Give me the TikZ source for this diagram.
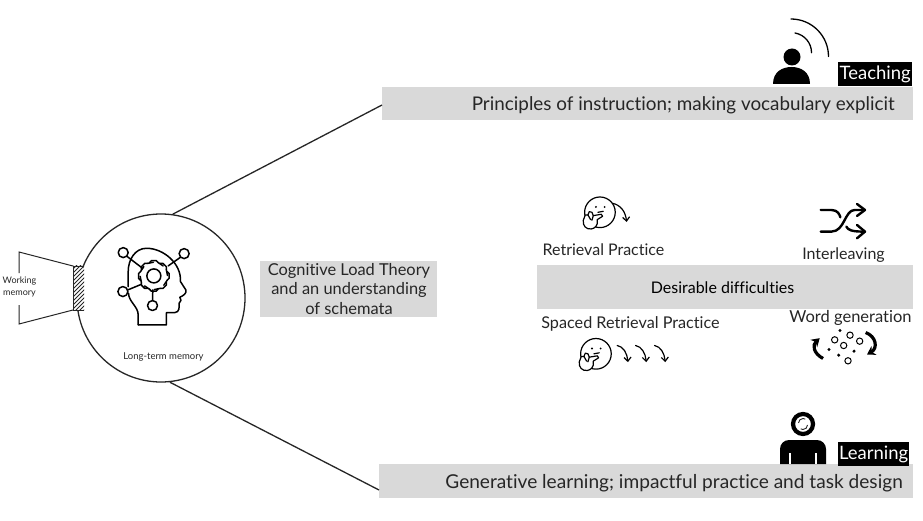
\documentclass[tikz,border=0pt]{standalone}
\usepackage{fontspec}
\setmainfont{Lato}[Ligatures=NoCommon]
\usetikzlibrary{arrows.meta}
\definecolor{barg}{HTML}{D9D9D9}
\definecolor{ink}{HTML}{262626}
\tikzset{
  graybar/.style={fill=barg,draw=none,inner sep=0pt,text=ink},
  blacktag/.style={fill=black,text=white,inner sep=0pt,minimum width=74pt,minimum height=24pt,font=\fontsize{18.5}{18.5}\selectfont},
  lbl/.style={text=ink,inner sep=0pt},
  icon/.style={line width=1.2pt,line cap=round,line join=round},
  wire/.style={line width=1.3pt,draw=ink},
  barb/.style={-{Straight Barb[length=4pt,width=7pt]}},
}
\newcommand{\thinkface}{%
  \draw[icon] (0,0) circle (46);
  \fill (-12,-16) circle (3.2) (14,-16) circle (3.2);
  \draw[icon] (-6,0) -- (10,-3);
  \draw[icon,fill=white] (-26,50) .. controls (-42,52) and (-52,40) .. (-50,24)
     -- (-44,8) -- (-36,8) -- (-32,-2) -- (-24,0) -- (-20,10)
     -- (4,6) -- (8,12) -- (-8,22) .. controls (-6,30) and (-8,38) .. (-12,42)
     .. controls (-16,46) and (-20,50) .. (-26,50) -- cycle;
  \draw[icon] (-36,8) -- (-28,22) (-20,10) -- (-24,24);
}
\begin{document}
\begin{tikzpicture}[x=1pt,y=-1pt]
\useasboundingbox (0,0) rectangle (923,521);
\fill[white] (0,0) rectangle (923,521);

% Bars
\node[graybar,minimum width=531pt,minimum height=33pt,anchor=north west] (bar1) at (382,87) {};
\node[lbl,font=\fontsize{18.85}{19}\selectfont,anchor=mid east] (t1) at (895,108) {Principles of instruction; making vocabulary explicit};
\node[graybar,minimum width=534pt,minimum height=34pt,anchor=north west] (bar3) at (379,464) {};
\node[lbl,font=\fontsize{19.1}{19}\selectfont,anchor=mid east] (t3) at (903,486) {Generative learning; impactful practice and task design};
\node[graybar,minimum width=376pt,minimum height=44pt,anchor=north west] (bar2) at (537,265) {};
\node[lbl,font=\fontsize{16}{16}\selectfont,text=black] (t2) at (722.5,288) {Desirable difficulties};
\node[graybar,minimum width=177pt,minimum height=56pt,anchor=north west] (bar4) at (260,261) {};
\node[lbl,font=\fontsize{16.4}{19.5}\selectfont,align=center] (t4) at (349,289) {Cognitive Load Theory\\and an understanding\\of schemata};

% Memory
\node[circle,draw=ink,line width=1.3pt,minimum size=168pt,inner sep=0pt] (mem) at (161,298) {};
\coordinate (b1) at (382,105);
\coordinate (b3) at (379,490);
\draw[wire] (mem.82) -- (b1);
\draw[wire] (mem.-84) -- (b3);
\fill[white] (73,266) rectangle (83,310);
\begin{scope}
\clip (73,266) rectangle (84,310);
\foreach \k in {-10,-6,...,60}{\draw[line width=.8pt,draw=ink] (70,266+\k) -- (88,266+\k-18);}
\end{scope}
\draw[line width=.8pt,draw=ink] (83,266) -- (73,266) -- (73,310) -- (83,310);
\coordinate (f1) at (73,266); \coordinate (f2) at (19,252); \coordinate (f3) at (19,273);
\coordinate (f4) at (73,310); \coordinate (f5) at (19,324); \coordinate (f6) at (19,305);
\draw[line width=1pt,draw=ink] (f1) -- (f2) -- (f3);
\draw[line width=1pt,draw=ink] (f4) -- (f5) -- (f6);
\node[lbl,font=\fontsize{9}{11.5}\selectfont,align=center] (wm) at (19.5,287) {Working\\memory};
\node[lbl,font=\fontsize{9.5}{12}\selectfont] (ltm) at (163.5,357) {Long-term memory};

% Head icon (zoom coordinates)
\begin{scope}[shift={(0,190)},x=0.333pt,y=-0.333pt,icon,line width=1.5pt,black]
 \draw (415,405) -- (500,405) -- (500,368) -- (525,368) .. controls (540,368) and (538,350) .. (538,340)
   .. controls (545,335) and (545,328) .. (540,322) .. controls (550,318) and (562,310) .. (558,300)
   -- (542,275) .. controls (545,220) and (490,175) .. (440,175)
   .. controls (405,175) and (385,210) .. (385,245) -- (385,290);
 \draw (386,310) .. controls (386,335) and (415,350) .. (415,375) -- (415,405);
 \draw (462,258) circle (21);
 \foreach \a in {0,45,...,315}{
   \draw[rotate around={\a:(462,258)}] (449,218) -- (455,212) -- (469,212) -- (475,218);
   \draw[rotate around={\a:(462,258)}] (475,218) -- (490,228);
 }
 \draw (370,188) circle (15) (553,191) circle (15) (369,305) circle (15) (458,347) circle (15);
 \draw (381,199) -- (428,235) (542,202) -- (505,228) (384,300) -- (425,283) (459,300) -- (458,332);
\end{scope}

% Retrieval practice
\begin{scope}[shift={(530,180)},x=0.333pt,y=-0.333pt]
 \begin{scope}[shift={(210,97)}]\thinkface\end{scope}
 \draw[icon,barb] (248,70) .. controls (272,75) and (287,95) .. (290,126);
 \begin{scope}[shift={(198,522)}]\thinkface\end{scope}
 \foreach \dx in {0,55,112}{
   \draw[icon,barb] (262+\dx,497) .. controls (280+\dx,500) and (292+\dx,520) .. (294+\dx,547);
 }
 % shuffle
 \begin{scope}[line width=2.4pt,line cap=round,line join=round]
 \draw (873,90) -- (905,90) .. controls (925,90) and (930,105) .. (932,112);
 \draw (1003,90) -- (975,90) .. controls (945,90) and (945,155) .. (905,155) -- (873,155);
 \draw (950,140) .. controls (955,150) and (965,155) .. (1003,155);
 \draw (982,72) -- (1006,90) -- (982,108) (982,135) -- (1006,155) -- (982,175);
 \end{scope}
 % word generation
 \foreach \p/\r in {915/480,961/466,942/497,990/484,955/543}{\draw[line width=1pt] (\p,\r) circle (9.5);}
 \foreach \p/\r in {931/452,898/509,973/514,927/526}{\fill (\p,\r) circle (5);}
 \draw[line width=3.2pt,-{Stealth[length=8pt,width=10pt]}] (880,536) .. controls (850,520) and (848,495) .. (870,475);
 \draw[line width=3.2pt,-{Stealth[length=8pt,width=10pt]}] (1008,458) .. controls (1040,470) and (1045,505) .. (1012,524);
\end{scope}

\node[lbl,font=\fontsize{16}{16}\selectfont] (rp) at (603.5,250) {Retrieval Practice};
\node[lbl,font=\fontsize{16}{16}\selectfont] (il) at (843.5,255) {Interleaving};
\node[lbl,font=\fontsize{16.2}{16}\selectfont] (srp) at (630.5,324) {Spaced Retrieval Practice};
\node[lbl,font=\fontsize{16.5}{16}\selectfont] (wg) at (850.5,318) {Word generation};

% Teaching icon
\fill (792,57) circle (8.5);
\fill (773,84) .. controls (773,72) and (782,67) .. (791.5,67) .. controls (801,67) and (810,72) .. (810,84) -- cycle;
\draw[line width=1.3pt,line cap=round] (791,19) arc (-90:0:37.5);
\draw[line width=1.3pt,line cap=round] (795,33) arc (-80:0:20);
\node[blacktag,anchor=north west] (tt) at (838,62) {Teaching};

% Learning icon
\draw[line width=4.2pt] (803,424) circle (10);
\draw[line width=.9pt,draw=ink] (798.5,423) arc (180:300:4.5);
\draw[line width=.9pt,draw=ink] (807.5,425) arc (0:120:4.5);
\fill (780,464) -- (780,449) .. controls (780,444) and (784,440) .. (789,440) -- (817,440) .. controls (822,440) and (826,444) .. (826,449) -- (826,464) -- cycle;
\draw[white,line width=1.6pt] (790,453) -- (790,464) (816,453) -- (816,464);
\node[blacktag,anchor=north west,minimum width=71pt] (lt) at (838,442) {Learning};
\end{tikzpicture}
\end{document}
